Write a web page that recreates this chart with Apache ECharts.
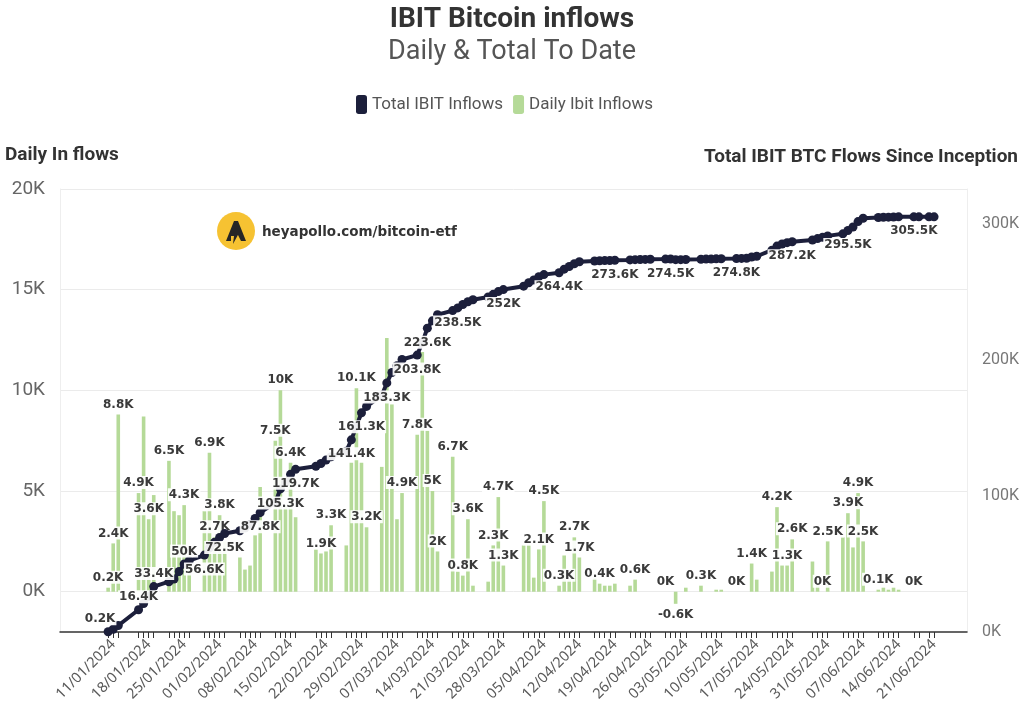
<!DOCTYPE html>
<html>
<head>
<meta charset="utf-8">
<script src="https://cdn.jsdelivr.net/npm/echarts@6/dist/echarts.min.js"></script>
<style>html,body{margin:0;padding:0;background:#fff}#chart{width:1024px;height:720px}</style>
</head>
<body>
<div id="chart"></div>
<script>
// ---------- DATA (thousands of BTC) ----------
const axisFirstDay = '2024-01-01';
const axisLastDay = '2024-06-27';

const tradingDays = [
 '2024-01-10','2024-01-11','2024-01-12',
 '2024-01-16','2024-01-17','2024-01-18','2024-01-19',
 '2024-01-22','2024-01-23','2024-01-24','2024-01-25','2024-01-26',
 '2024-01-29','2024-01-30','2024-01-31','2024-02-01','2024-02-02',
 '2024-02-05','2024-02-06','2024-02-07','2024-02-08','2024-02-09',
 '2024-02-12','2024-02-13','2024-02-14','2024-02-15','2024-02-16',
 '2024-02-20','2024-02-21','2024-02-22','2024-02-23',
 '2024-02-26','2024-02-27','2024-02-28','2024-02-29','2024-03-01',
 '2024-03-04','2024-03-05','2024-03-06','2024-03-07','2024-03-08',
 '2024-03-11','2024-03-12','2024-03-13','2024-03-14','2024-03-15',
 '2024-03-18','2024-03-19','2024-03-20','2024-03-21','2024-03-22',
 '2024-03-25','2024-03-26','2024-03-27','2024-03-28',
 '2024-04-01','2024-04-02','2024-04-03','2024-04-04','2024-04-05',
 '2024-04-08','2024-04-09','2024-04-10','2024-04-11','2024-04-12',
 '2024-04-15','2024-04-16','2024-04-17','2024-04-18','2024-04-19',
 '2024-04-22','2024-04-23','2024-04-24','2024-04-25','2024-04-26',
 '2024-04-29','2024-04-30','2024-05-01','2024-05-02','2024-05-03',
 '2024-05-06','2024-05-07','2024-05-08','2024-05-09','2024-05-10',
 '2024-05-13','2024-05-14','2024-05-15','2024-05-16','2024-05-17',
 '2024-05-20','2024-05-21','2024-05-22','2024-05-23','2024-05-24',
 '2024-05-28','2024-05-29','2024-05-30','2024-05-31',
 '2024-06-03','2024-06-04','2024-06-05','2024-06-06','2024-06-07',
 '2024-06-10','2024-06-11','2024-06-12','2024-06-13','2024-06-14',
 '2024-06-17','2024-06-18','2024-06-20','2024-06-21'
];

const dailyIbitInflowsK = [
 0.2, 2.4, 8.8,
 4.9, 8.7, 3.6, 4.8,
 6.5, 4.0, 3.8, 4.3, 1.5,
 4.0, 6.9, 2.7, 3.8, 2.5,
 1.7, 1.1, 1.3, 2.8, 5.2,
 7.5, 10.0, 4.3, 6.4, 3.7,
 2.1, 1.9, 2.0, 3.3,
 2.3, 6.4, 10.1, 6.4, 3.2,
 6.2, 12.6, 9.3, 3.6, 4.9,
 7.8, 11.9, 8.0, 5.0, 2.0,
 6.7, 1.0, 0.8, 3.6, 0.3,
 0.5, 2.3, 4.7, 1.3,
 2.3, 2.3, 0.7, 2.1, 4.5,
 0.3, 1.8, 0.6, 2.7, 1.7,
 0.7, 0.4, 0.3, 0.3, 0.4,
 0.3, 0.6, 0, 0, 0,
 0, 0, -0.6, 0, 0.2,
 0.3, 0, 0, 0.1, 0.1,
 0, 0, 0, 1.4, 0.6,
 1.0, 4.2, 1.3, 1.3, 2.6,
 1.5, 0.5, 0, 2.5,
 2.7, 3.9, 2.2, 4.9, 2.5,
 0.1, 0.2, 0.1, 0.2, 0.1,
 0, 0, 0, 0
];

const totalIbitInflowsK = [
 0.2, 2.0, 4.8,
 16.4, 21.0, 26.0, 33.4,
 37.0, 39.0, 44.5, 50.0, 52.5,
 56.6, 62.0, 66.0, 69.5, 72.5,
 74.5, 76.5, 79.0, 83.5, 87.8,
 95.3, 105.3, 110.0, 116.0, 119.7,
 122.0, 124.0, 126.5, 129.0,
 133.0, 141.4, 151.5, 161.3, 166.0,
 174.0, 183.3, 191.0, 196.0, 200.5,
 203.8, 213.0, 223.6, 229.0, 233.5,
 236.5, 238.5, 241.0, 243.0, 244.5,
 246.5, 248.5, 250.5, 252.0,
 254.5, 257.0, 259.0, 261.5, 263.0,
 264.4, 267.0, 269.0, 271.0, 272.5,
 273.0, 273.2, 273.3, 273.4, 273.6,
 273.8, 274.0, 274.1, 274.2, 274.3,
 274.4, 274.5, 274.0, 274.0, 274.1,
 274.3, 274.4, 274.5, 274.6, 274.7,
 274.8, 274.9, 275.0, 276.0, 276.5,
 281.0, 284.0, 285.5, 286.5, 287.2,
 288.5, 289.5, 290.5, 291.5,
 293.0, 295.5, 298.0, 302.0, 304.5,
 305.0, 305.2, 305.3, 305.4, 305.5,
 305.5, 305.5, 305.5, 305.5
];

// days whose value is printed on the chart
const dailyLabelDays = [
 '2024-01-10','2024-01-11','2024-01-12','2024-01-16','2024-01-18','2024-01-22','2024-01-25',
 '2024-01-30','2024-01-31','2024-02-01','2024-02-12','2024-02-13','2024-02-15','2024-02-21',
 '2024-02-23','2024-02-28','2024-03-01','2024-03-08','2024-03-11','2024-03-14','2024-03-15',
 '2024-03-18','2024-03-20','2024-03-21','2024-03-26','2024-03-27','2024-03-28','2024-04-04',
 '2024-04-05','2024-04-08','2024-04-11','2024-04-12','2024-04-16','2024-04-23','2024-04-29',
 '2024-05-01','2024-05-06','2024-05-13','2024-05-16','2024-05-21','2024-05-23','2024-05-24',
 '2024-05-30','2024-05-31','2024-06-04','2024-06-06','2024-06-07','2024-06-10','2024-06-17'
];
const totalLabelDaysAbove = ['2024-01-10','2024-01-16','2024-01-19','2024-01-25'];
const totalLabelDaysBelow = [
 '2024-01-29','2024-02-02','2024-02-09','2024-02-13','2024-02-16','2024-02-27','2024-02-29',
 '2024-03-05','2024-03-11','2024-03-13','2024-03-19','2024-03-28','2024-04-08','2024-04-19',
 '2024-04-30','2024-05-13','2024-05-24','2024-06-04','2024-06-17'
];

const xLabelDays = [
 '2024-01-11','2024-01-18','2024-01-25','2024-02-01','2024-02-08','2024-02-15','2024-02-22',
 '2024-02-29','2024-03-07','2024-03-14','2024-03-21','2024-03-28','2024-04-05','2024-04-12',
 '2024-04-19','2024-04-26','2024-05-03','2024-05-10','2024-05-17','2024-05-24','2024-05-31',
 '2024-06-07','2024-06-14','2024-06-21'
];
const leftTicksK = [0, 5, 10, 15, 20];
const rightTicksK = [0, 100, 200, 300];

// ---------- helpers ----------
const iso = t => new Date(t).toISOString().slice(0, 10);
const calendarDays = [];
for (let t = Date.parse(axisFirstDay + 'T00:00:00Z'); t <= Date.parse(axisLastDay + 'T00:00:00Z'); t += 86400000) calendarDays.push(iso(t));
const fmtDate = s => s.slice(8, 10) + '/' + s.slice(5, 7) + '/' + s.slice(0, 4);
const fmtK = v => { let r = Math.round(v * 10) / 10; if (r === 0) r = 0; return (Number.isInteger(r) ? r.toFixed(0) : r.toFixed(1)) + 'K'; };
const tradingSet = new Set(tradingDays);
const xLabelSet = new Set(xLabelDays);

const labelStyle = {
  fontFamily: 'DejaVu Sans', fontWeight: 'bold', fontSize: 12, color: '#3a3a3a',
  backgroundColor: 'rgba(255,255,255,0.92)', padding: [1, 1, 0, 1],
  formatter: p => fmtK(p.value)
};

const barData = calendarDays.map(d => {
  const i = tradingDays.indexOf(d);
  if (i < 0) return null;
  const item = { value: dailyIbitInflowsK[i] };
  if (dailyLabelDays.includes(d)) {
    item.label = Object.assign({ show: true, position: dailyIbitInflowsK[i] < 0 ? 'bottom' : 'top', distance: 4 }, labelStyle);
  }
  return item;
});
const lineData = calendarDays.map(d => {
  const i = tradingDays.indexOf(d);
  if (i < 0) return null;
  const item = { value: totalIbitInflowsK[i] };
  if (totalLabelDaysAbove.includes(d)) {
    item.label = Object.assign({ show: true, position: 'top', distance: 2 }, labelStyle);
    if (i === 0) item.label.offset = [-8, 0];
  } else if (totalLabelDaysBelow.includes(d)) {
    item.label = Object.assign({ show: true, position: 'bottom', distance: 3 }, labelStyle);
  }
  return item;
});

const chart = echarts.init(document.getElementById('chart'), null, { renderer: 'canvas' });
chart.setOption({
  animation: false,
  backgroundColor: '#ffffff',
  title: {
    text: 'IBIT Bitcoin inflows',
    subtext: 'Daily & Total To Date',
    left: 'center', top: 1, itemGap: 5,
    textStyle: { fontFamily: 'Roboto', fontWeight: 'bold', fontSize: 28, color: '#333' },
    subtextStyle: { fontFamily: 'Roboto', fontSize: 27, color: '#555' }
  },
  legend: {
    top: 90, left: 351, icon: 'roundRect', itemWidth: 11, itemHeight: 19, itemGap: 10,
    textStyle: { fontFamily: 'Roboto', fontSize: 17, color: '#555' },
    data: ['Total IBIT Inflows', 'Daily Ibit Inflows']
  },
  grid: { left: 60, right: 57, top: 189, bottom: 88, containLabel: false },
  xAxis: {
    type: 'category',
    data: calendarDays,
    boundaryGap: true,
    axisLine: { show: true, onZero: false, lineStyle: { color: '#333', width: 1.5 } },
    axisTick: { show: true, alignWithLabel: true, length: 6, lineStyle: { color: '#333' }, interval: (idx, val) => tradingSet.has(val) },
    axisLabel: {
      interval: (idx, val) => xLabelSet.has(val), rotate: 45, margin: 10,
      fontFamily: 'Noto Sans', fontSize: 14.5, color: '#5a5a5a', formatter: v => fmtDate(v)
    },
    splitLine: { show: false }
  },
  yAxis: [
    {
      type: 'value', min: -2, max: 20, position: 'left',
      axisLine: { show: true, lineStyle: { color: '#eeeeee' } },
      axisTick: { show: false, customValues: leftTicksK },
      axisLabel: { customValues: leftTicksK, margin: 15, fontFamily: 'Roboto', fontSize: 19, color: '#666', formatter: v => v + 'K' },
      splitLine: { show: true, lineStyle: { color: '#ebebeb', width: 1 } }
    },
    {
      type: 'value', min: 0, max: 326, position: 'right',
      axisLine: { show: true, lineStyle: { color: '#eeeeee' } },
      axisTick: { show: false, customValues: rightTicksK },
      axisLabel: { customValues: rightTicksK, margin: 15, fontFamily: 'Roboto', fontSize: 16, color: '#777', formatter: v => v + 'K' },
      splitLine: { show: false }
    }
  ],
  series: [
    {
      name: 'Total IBIT Inflows', type: 'line', yAxisIndex: 1, z: 4,
      data: lineData, connectNulls: true, color: '#1c1f3b',
      lineStyle: { width: 4, color: '#1c1f3b' },
      symbol: 'circle', symbolSize: 9, showAllSymbol: true,
      itemStyle: { color: '#1c1f3b' }
    },
    {
      name: 'Daily Ibit Inflows', type: 'bar', yAxisIndex: 0, z: 2,
      data: barData, barWidth: 3.6, color: '#b5da98',
      itemStyle: { color: '#b5da98' }
    }
  ],
  graphic: [
    { type: 'text', left: 5, top: 146, style: { text: 'Daily In flows', font: 'bold 19px Roboto', fill: '#333' } },
    { type: 'text', right: 6, top: 148, style: { text: 'Total IBIT BTC Flows Since Inception', font: 'bold 19px Roboto', fill: '#333' } },
    { type: 'circle', shape: { cx: 236, cy: 231, r: 19 }, style: { fill: '#f6c232' }, z: 1 },
    { type: 'polygon', shape: { points: [[226, 241], [234, 221], [238, 221], [246, 241], [241, 241], [237, 233], [239, 233], [233, 244], [234, 236], [231, 236], [231, 241]] }, style: { fill: '#262626' }, z: 2 },
    { type: 'text', left: 262, top: 225, style: { text: 'heyapollo.com/bitcoin-etf', font: 'bold 13.5px "DejaVu Sans"', fill: '#333' } }
  ]
});
</script>
</body>
</html>
